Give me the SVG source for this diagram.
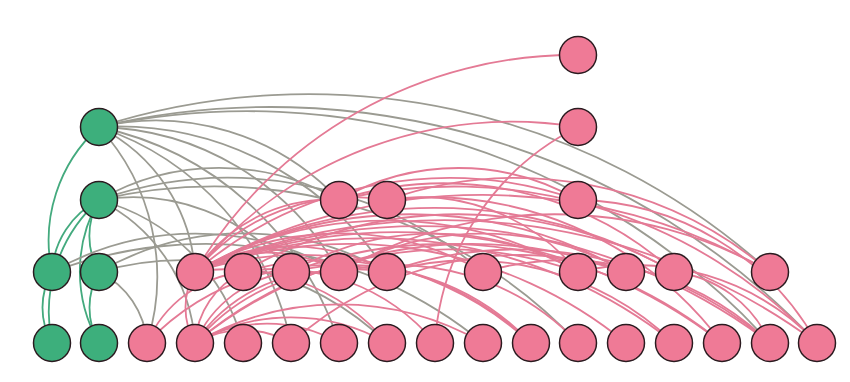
<svg xmlns="http://www.w3.org/2000/svg" width="850" height="382" viewBox="0 0 850 382">
<style>
path{fill:none;stroke-width:1.8}
.eg{stroke:#9b9b92}
.ep{stroke:#e47a95}
.en{stroke:#44aa7e}
circle{stroke:#2b1b20;stroke-width:1.5}
.gn circle{fill:#3daf7c}
.pk circle{fill:#ef7a96}
</style>
<rect width="850" height="382" fill="#ffffff"/>
<g id="edges">
<path class="en" d="M52 272 A152.4 152.4 0 0 1 99 127"/>
<path class="en" d="M52 272 A86 86 0 0 1 99 200"/>
<path class="en" d="M52 343 A150.5 150.5 0 0 1 99 200"/>
<path class="en" d="M99 272 A72 72 0 0 1 99 200"/>
<path class="en" d="M99 343 A143 143 0 0 1 99 200"/>
<path class="en" d="M52 343 A71 71 0 0 1 52 272"/>
<path class="en" d="M99 343 A71 71 0 0 1 99 272"/>
<path class="eg" d="M99 127 A686.5 686.5 0 0 1 770 272"/>
<path class="eg" d="M99 127 A749.8 749.8 0 0 1 817 343"/>
<path class="eg" d="M99 127 A704.9 704.9 0 0 1 770 343"/>
<path class="eg" d="M99 127 A250.9 250.9 0 0 1 339 200"/>
<path class="eg" d="M99 127 A280.4 280.4 0 0 1 339 272"/>
<path class="eg" d="M99 127 A322.4 322.4 0 0 1 387 272"/>
<path class="eg" d="M99 127 A173.9 173.9 0 0 1 195 272"/>
<path class="eg" d="M99 127 A221.3 221.3 0 0 1 147 343"/>
<path class="eg" d="M99 127 A289 289 0 0 1 291 343"/>
<path class="eg" d="M99 127 A322.9 322.9 0 0 1 339 343"/>
<path class="eg" d="M99 200 A240 240 0 0 1 339 200"/>
<path class="eg" d="M99 200 A499.9 499.9 0 0 1 578 343"/>
<path class="eg" d="M99 200 A172.2 172.2 0 0 1 195 343"/>
<path class="eg" d="M99 200 A202.9 202.9 0 0 1 243 343"/>
<path class="eg" d="M99 200 A205.1 205.1 0 0 1 291 272"/>
<path class="eg" d="M99 200 A390.7 390.7 0 0 1 483 272"/>
<path class="eg" d="M52 272 A287 287 0 0 1 339 272"/>
<path class="eg" d="M52 272 A436.8 436.8 0 0 1 483 343"/>
<path class="eg" d="M99 272 A288 288 0 0 1 387 272"/>
<path class="eg" d="M99 272 A85.7 85.7 0 0 1 147 343"/>
<path class="eg" d="M99 272 A296.6 296.6 0 0 1 387 343"/>
<path class="ep" d="M195 272 A440.2 440.2 0 0 1 578 55"/>
<path class="ep" d="M195 272 A409.5 409.5 0 0 1 578 127"/>
<path class="ep" d="M195 272 A161 161 0 0 1 339 200"/>
<path class="ep" d="M195 272 A205.1 205.1 0 0 1 387 200"/>
<path class="ep" d="M195 272 A389.7 389.7 0 0 1 578 200"/>
<path class="ep" d="M195 272 A144 144 0 0 1 339 272"/>
<path class="ep" d="M195 272 A192 192 0 0 1 387 272"/>
<path class="ep" d="M195 272 A288 288 0 0 1 483 272"/>
<path class="ep" d="M195 272 A383 383 0 0 1 578 272"/>
<path class="ep" d="M195 272 A431 431 0 0 1 626 272"/>
<path class="ep" d="M195 272 A479 479 0 0 1 674 272"/>
<path class="ep" d="M195 272 A575 575 0 0 1 770 272"/>
<path class="ep" d="M195 272 A436.8 436.8 0 0 1 626 343"/>
<path class="ep" d="M195 272 A484.2 484.2 0 0 1 674 343"/>
<path class="ep" d="M195 272 A531.8 531.8 0 0 1 722 343"/>
<path class="ep" d="M195 272 A579.4 579.4 0 0 1 770 343"/>
<path class="ep" d="M195 272 A626 626 0 0 1 817 343"/>
<path class="ep" d="M195 272 A204.7 204.7 0 0 1 387 343"/>
<path class="ep" d="M195 272 A343.4 343.4 0 0 1 531 343"/>
<path class="ep" d="M195 343 A71 71 0 0 1 195 272"/>
<path class="ep" d="M195 343 A85.7 85.7 0 0 1 243 272"/>
<path class="ep" d="M195 343 A119.4 119.4 0 0 1 291 272"/>
<path class="ep" d="M195 343 A160.6 160.6 0 0 1 339 272"/>
<path class="ep" d="M195 343 A204.7 204.7 0 0 1 387 272"/>
<path class="ep" d="M195 343 A389.5 389.5 0 0 1 578 272"/>
<path class="ep" d="M195 343 A436.8 436.8 0 0 1 626 272"/>
<path class="ep" d="M195 343 A144 144 0 0 1 339 343"/>
<path class="ep" d="M195 343 A192 192 0 0 1 387 343"/>
<path class="ep" d="M195 343 A288 288 0 0 1 483 343"/>
<path class="ep" d="M195 343 A96 96 0 0 1 291 343"/>
<path class="ep" d="M147 343 A250.3 250.3 0 0 1 387 272"/>
<path class="ep" d="M147 343 A119.4 119.4 0 0 1 243 272"/>
<path class="ep" d="M243 272 A204.7 204.7 0 0 1 435 343"/>
<path class="ep" d="M243 272 A296.6 296.6 0 0 1 531 343"/>
<path class="ep" d="M243 272 A431 431 0 0 1 674 272"/>
<path class="ep" d="M291 272 A250.3 250.3 0 0 1 531 343"/>
<path class="ep" d="M291 272 A436.8 436.8 0 0 1 722 343"/>
<path class="ep" d="M291 272 A287 287 0 0 1 578 272"/>
<path class="ep" d="M339 272 A249.3 249.3 0 0 1 578 343"/>
<path class="ep" d="M339 272 A431 431 0 0 1 770 272"/>
<path class="ep" d="M339 272 A287 287 0 0 1 626 272"/>
<path class="ep" d="M387 272 A295.7 295.7 0 0 1 674 343"/>
<path class="ep" d="M387 272 A389.5 389.5 0 0 1 770 343"/>
<path class="ep" d="M339 200 A239 239 0 0 1 578 200"/>
<path class="ep" d="M339 200 A498.9 498.9 0 0 1 817 343"/>
<path class="ep" d="M339 200 A342.6 342.6 0 0 1 674 272"/>
<path class="ep" d="M387 200 A389.7 389.7 0 0 1 770 272"/>
<path class="ep" d="M387 200 A364.2 364.2 0 0 1 722 343"/>
<path class="ep" d="M387 200 A204.1 204.1 0 0 1 578 272"/>
<path class="ep" d="M578 200 A278.5 278.5 0 0 1 817 343"/>
<path class="ep" d="M435 343 A259 259 0 0 1 578 127"/>
<path class="ep" d="M483 272 A295.7 295.7 0 0 1 770 343"/>
<path class="ep" d="M578 272 A249.3 249.3 0 0 1 817 343"/>
<path class="ep" d="M291 343 A342.4 342.4 0 0 1 626 272"/>
<path class="ep" d="M674 272 A119.4 119.4 0 0 1 770 343"/>
</g>
<g id="n-g1" class="gn"><circle cx="99" cy="127" r="18.5"/></g>
<g id="n-g2" class="gn"><circle cx="99" cy="200" r="18.5"/></g>
<g id="n-g3" class="gn"><circle cx="52" cy="272" r="18.5"/></g>
<g id="n-g4" class="gn"><circle cx="99" cy="272" r="18.5"/></g>
<g id="n-g5" class="gn"><circle cx="52" cy="343" r="18.5"/></g>
<g id="n-g6" class="gn"><circle cx="99" cy="343" r="18.5"/></g>
<g id="n-t1" class="pk"><circle cx="578" cy="55" r="18.5"/></g>
<g id="n-t2" class="pk"><circle cx="578" cy="127" r="18.5"/></g>
<g id="n-ra" class="pk"><circle cx="339" cy="200" r="18.5"/></g>
<g id="n-rb" class="pk"><circle cx="387" cy="200" r="18.5"/></g>
<g id="n-rc" class="pk"><circle cx="578" cy="200" r="18.5"/></g>
<g id="n-a" class="pk"><circle cx="195" cy="272" r="18.5"/></g>
<g id="n-b" class="pk"><circle cx="243" cy="272" r="18.5"/></g>
<g id="n-c" class="pk"><circle cx="291" cy="272" r="18.5"/></g>
<g id="n-d" class="pk"><circle cx="339" cy="272" r="18.5"/></g>
<g id="n-e" class="pk"><circle cx="387" cy="272" r="18.5"/></g>
<g id="n-f" class="pk"><circle cx="483" cy="272" r="18.5"/></g>
<g id="n-g" class="pk"><circle cx="578" cy="272" r="18.5"/></g>
<g id="n-h" class="pk"><circle cx="626" cy="272" r="18.5"/></g>
<g id="n-i" class="pk"><circle cx="674" cy="272" r="18.5"/></g>
<g id="n-j" class="pk"><circle cx="770" cy="272" r="18.5"/></g>
<g id="n-p1" class="pk"><circle cx="147" cy="343" r="18.5"/></g>
<g id="n-p2" class="pk"><circle cx="195" cy="343" r="18.5"/></g>
<g id="n-p3" class="pk"><circle cx="243" cy="343" r="18.5"/></g>
<g id="n-p4" class="pk"><circle cx="291" cy="343" r="18.5"/></g>
<g id="n-p5" class="pk"><circle cx="339" cy="343" r="18.5"/></g>
<g id="n-p6" class="pk"><circle cx="387" cy="343" r="18.5"/></g>
<g id="n-p7" class="pk"><circle cx="435" cy="343" r="18.5"/></g>
<g id="n-p8" class="pk"><circle cx="483" cy="343" r="18.5"/></g>
<g id="n-p9" class="pk"><circle cx="531" cy="343" r="18.5"/></g>
<g id="n-p10" class="pk"><circle cx="578" cy="343" r="18.5"/></g>
<g id="n-p11" class="pk"><circle cx="626" cy="343" r="18.5"/></g>
<g id="n-p12" class="pk"><circle cx="674" cy="343" r="18.5"/></g>
<g id="n-p13" class="pk"><circle cx="722" cy="343" r="18.5"/></g>
<g id="n-p14" class="pk"><circle cx="770" cy="343" r="18.5"/></g>
<g id="n-p15" class="pk"><circle cx="817" cy="343" r="18.5"/></g>
</svg>
